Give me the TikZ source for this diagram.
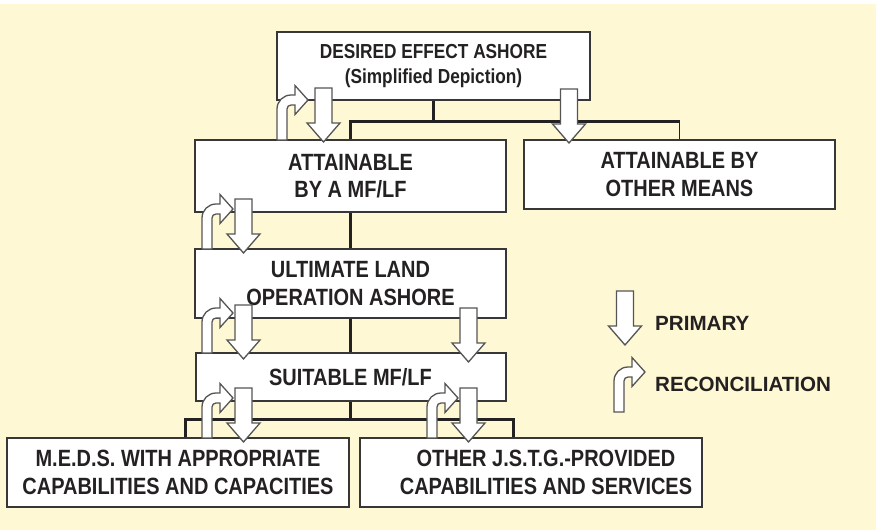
\documentclass[tikz,border=0pt]{standalone}
\usepackage{fontspec}
\setmainfont{Liberation Sans}
\newfontfamily\boxfont{Liberation Sans}[FakeStretch=0.85]

\definecolor{paper}{RGB}{255,248,212}
\definecolor{ink}{RGB}{35,33,33}
\definecolor{edge}{RGB}{55,55,55}

\begin{document}
\begin{tikzpicture}[
            x=1pt, y=-1pt,
            bNode/.style={draw=edge, line width=2pt, fill=white, rectangle, inner sep=0pt, align=center, text=ink,
                font=\boxfont\bfseries\fontsize{23.5}{27.5}\selectfont},
            bText/.style={inner sep=0pt, align=center, text=ink, font=\boxfont\bfseries\fontsize{23.5}{27.5}\selectfont},
            tLine/.style={draw=ink, line width=3pt},
            legText/.style={anchor=west, inner sep=0pt, text=ink, font=\bfseries\fontsize{20.6}{24}\selectfont},
            primArrow/.pic={\draw[draw=edge!85, line width=1.3pt, fill=white]
                (-8.5,-54) -- (8.5,-54) -- (8.5,-19) -- (16.5,-19) -- (0,0) -- (-16.5,-19) -- (-8.5,-19) -- cycle;},
            recArrow/.pic={\draw[draw=edge!85, line width=1.3pt, fill=white]
                (0,0) -- (0,-31) .. controls (0,-38.7) and (6.3,-45) .. (14,-45) -- (18,-45) -- (18,-54.5)
                -- (31,-40) -- (18,-25.5) -- (18,-35) -- (14,-35) .. controls (11.8,-35) and (10,-33.2) .. (10,-31) -- (10,0) -- cycle;}
        ]

        % background
        \fill[white] (0,0) rectangle (876,530);
        \fill[paper] (0,4) rectangle (876,530);
        \useasboundingbox (0,0) rectangle (876,530);

        % boxes
        \node [bNode, minimum width=313pt, minimum height=68pt, font=\boxfont\bfseries\fontsize{20.3}{25}\selectfont]
            (desired) at (433.5,66) {DESIRED EFFECT ASHORE\\(Simplified Depiction)};
        \node [bNode, minimum width=311pt, minimum height=72pt] (attain) at (350.5,176) {ATTAINABLE\\BY A MF/LF};
        \node [bNode, minimum width=311pt, minimum height=69pt] (other) at (679.5,174.5) {ATTAINABLE BY\\OTHER MEANS};
        \node [bNode, minimum width=311pt, minimum height=69pt] (ultimate) at (350.5,283.5) {ULTIMATE LAND\\OPERATION ASHORE};
        \node [bNode, minimum width=310pt, minimum height=48pt] (suitable) at (350.5,377) {SUITABLE MF/LF};
        \node [bNode, minimum width=342pt, minimum height=69pt] (meds) at (178,472.5) {M.E.D.S. WITH APPROPRIATE\\CAPABILITIES AND CAPACITIES};
        \node [bNode, minimum width=342pt, minimum height=69pt] (jstg) at (531,472.5) {};
        \node [bText] (jstgText) at ([xshift=15pt]jstg.center) {OTHER J.S.T.G.-PROVIDED\\CAPABILITIES AND SERVICES};

        % tree lines
        \draw [tLine] (desired.south) -- ++(0,20) coordinate (busTop);
        \draw [tLine] (attain.north) |- (busTop) -- (busTop -| other.north);
        \draw [draw=ink, line width=0.8pt] (busTop -| other.north) -- (other.north);
        \draw [tLine] (attain.south) -- (ultimate.north);
        \draw [tLine] (ultimate.south) -- (suitable.north);
        \draw [tLine] (suitable.south) -- ++(0,17) coordinate (busLow);
        \draw [tLine] ([xshift=7pt]meds.north) |- (busLow) -| ([xshift=-18pt]jstg.north);

        % primary and reconciliation arrows
        \pic at (277,140) {recArrow};
        \pic at (323.5,142) {primArrow};
        \pic at (569,143) {primArrow};
        \pic at (202,249) {recArrow};
        \pic at (243.5,253) {primArrow};
        \pic at (202,353) {recArrow};
        \pic at (243.5,359) {primArrow};
        \pic at (468.5,362) {primArrow};
        \pic at (202,438) {recArrow};
        \pic at (243.5,442) {primArrow};
        \pic at (427,438) {recArrow};
        \pic at (468.5,442) {primArrow};

        % legend
        \pic at (625,345) {primArrow};
        \node [legText] (primLabel) at (655,323) {PRIMARY};
        \pic at (614,412) {recArrow};
        \node [legText] (recLabel) at (655,384) {RECONCILIATION};

    \end{tikzpicture}
\end{document}
